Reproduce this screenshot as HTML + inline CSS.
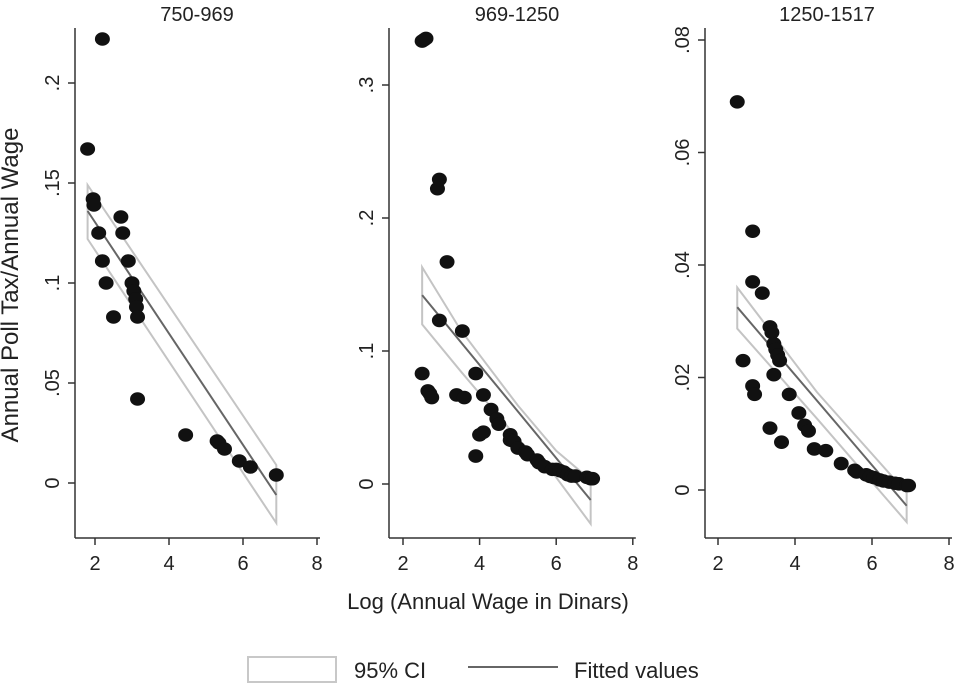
<!DOCTYPE html>
<html><head><meta charset="utf-8"><style>
body{margin:0;background:#fff;}
svg{display:block;font-family:"Liberation Sans",Arial,sans-serif;}
</style></head><body>
<svg id="chart" width="963" height="684" viewBox="0 0 963 684">
<text x="18" y="285" transform="rotate(-90 18 285)" text-anchor="middle" font-size="24" fill="#222">Annual Poll Tax/Annual Wage</text>
<text x="488" y="609" text-anchor="middle" font-size="22" fill="#222">Log (Annual Wage in Dinars)</text>
<g>
<rect x="248" y="657" width="88" height="25" fill="#fff" stroke="#c8c8c8" stroke-width="2"/>
<text x="354" y="678" font-size="22" fill="#222">95% CI</text>
<line x1="468" y1="667" x2="558" y2="667" stroke="#666" stroke-width="2"/>
<text x="574" y="678" font-size="22" fill="#222">Fitted values</text>
</g>
</svg>
<script>
const titles = ["750-969","969-1250","1250-1517"];
const xTicks = [2,4,6,8];
const yTicks1 = [0,0.05,0.1,0.15,0.2];
const yLabels1 = ["0",".05",".1",".15",".2"];
const yTicks2 = [0,0.1,0.2,0.3];
const yLabels2 = ["0",".1",".2",".3"];
const yTicks3 = [0,0.02,0.04,0.06,0.08];
const yLabels3 = ["0",".02",".04",".06",".08"];
const px1 = [1.8,2.2,1.95,1.97,2.1,2.2,2.3,2.5,2.7,2.75,2.9,3.0,3.05,3.1,3.12,3.15,3.15,4.45,5.3,5.35,5.5,5.9,6.2,6.9];
const py1 = [.167,.222,.142,.139,.125,.111,.100,.083,.133,.125,.111,.100,.096,.092,.088,.083,.042,.024,.021,.020,.017,.011,.008,.004];
const px2 = [2.5,2.55,2.6,2.9,2.95,3.15,2.95,3.55,2.5,2.65,2.7,2.75,3.4,3.6,3.9,4.1,4.3,4.45,4.5,3.9,4.0,4.1,4.8,4.8,4.9,5.0,5.2,5.25,5.5,5.55,5.7,5.9,6.0,6.1,6.2,6.3,6.4,6.5,6.8,6.9,6.95];
const py2 = [.333,.334,.335,.222,.229,.167,.123,.115,.083,.070,.068,.065,.067,.065,.083,.067,.056,.049,.045,.021,.037,.039,.037,.033,.032,.027,.024,.022,.018,.016,.013,.011,.011,.010,.009,.007,.006,.006,.005,.004,.004];
const px3 = [2.5,2.9,2.9,3.15,2.65,2.9,2.95,3.35,3.4,3.45,3.5,3.55,3.6,3.45,3.85,3.35,3.65,4.1,4.25,4.35,4.5,4.8,5.2,5.55,5.6,5.85,5.95,6.05,6.2,6.3,6.45,6.6,6.7,6.9,6.95];
const py3 = [.069,.046,.037,.035,.023,.0185,.017,.029,.028,.026,.025,.024,.023,.0205,.017,.011,.0085,.0137,.0115,.0105,.0073,.007,.0047,.0035,.0032,.0027,.0024,.0022,.0018,.0016,.0014,.0012,.0011,.0008,.0008];
const fitX1 = [1.8,6.9], fitY1 = [.136,-.006];
const ciX1 = [1.8,6.9], ciU1 = [.149,.009], ciL1 = [.122,-.020];
const fitX2 = [2.5,6.9], fitY2 = [.142,-.012];
const ciX2 = [2.5,3.5,5.0,6.0,6.9], ciU2 = [.163,.116,.059,.025,.003], ciL2 = [.120,.085,.034,.005,-.030];
const fitX3 = [2.5,6.9], fitY3 = [.0325,-.0028];
const ciX3 = [2.5,4.57,6.9], ciU3 = [.036,.0174,-.0005], ciL3 = [.0287,.0127,-.0057];

const NS="http://www.w3.org/2000/svg";
const svg=document.getElementById('chart');
function mk(tag,attrs,parent){const e=document.createElementNS(NS,tag);for(const k in attrs)e.setAttribute(k,attrs[k]);(parent||svg).appendChild(e);return e;}

const panels=[
 {axX:75,x2px:95,ppu:37,y0px:483,ppv:100/0.05,top:28,yT:yTicks1,yL:yLabels1,px:px1,py:py1,fx:fitX1,fy:fitY1,cx:ciX1,cu:ciU1,cl:ciL1,tx:197},
 {axX:389,x2px:403,ppu:38.3,y0px:484,ppv:133/0.1,top:28,yT:yTicks2,yL:yLabels2,px:px2,py:py2,fx:fitX2,fy:fitY2,cx:ciX2,cu:ciU2,cl:ciL2,tx:517},
 {axX:705,x2px:718,ppu:38.5,y0px:490,ppv:112.5/0.02,top:28,yT:yTicks3,yL:yLabels3,px:px3,py:py3,fx:fitX3,fy:fitY3,cx:ciX3,cu:ciU3,cl:ciL3,tx:827}
];
const axisY=538;
panels.forEach((p,i)=>{
 const g=mk('g',{});
 
 
 const xs=v=>p.x2px+(v-2)*p.ppu;
 const ys=v=>p.y0px-v*p.ppv;
 const t=mk('text',{x:p.tx,y:21,'text-anchor':'middle','font-size':20,fill:'#222'},g);
 t.textContent=titles[i];
 
 
 const ya=mk('line',{x1:p.axX,y1:p.top,x2:p.axX,y2:axisY,stroke:'#333','stroke-width':1.5},g);
 
 
 const xa=mk('line',{x1:p.axX,y1:axisY,x2:xs(8)+3,y2:axisY,stroke:'#333','stroke-width':1.5},g);
 
 
 xTicks.forEach(v=>{
  mk('line',{x1:xs(v),y1:axisY,x2:xs(v),y2:axisY+7,stroke:'#333','stroke-width':1.5},g);
  const tl=mk('text',{x:xs(v),y:axisY+32,'text-anchor':'middle','font-size':20,fill:'#222'},g);
  tl.textContent=v;
  
  
 });
 p.yT.forEach((v,j)=>{
  const y=ys(v);
  mk('line',{x1:p.axX-7,y1:y,x2:p.axX,y2:y,stroke:'#333','stroke-width':1.5},g);
  const lx=p.axX-16;
  const tl=mk('text',{x:lx,y:y,'text-anchor':'middle','font-size':20,fill:'#222',transform:`rotate(-90 ${lx} ${y})`},g);
  tl.textContent=p.yL[j];
  
  
 });
 let pts=p.cx.map((x,k)=>xs(x)+','+ys(p.cu[k]));
 for(let k=p.cx.length-1;k>=0;k--)pts.push(xs(p.cx[k])+','+ys(p.cl[k]));
 const ci=mk('polygon',{points:pts.join(' '),fill:'none',stroke:'#c4c4c4','stroke-width':2},g);
 
 
 const fit=mk('polyline',{points:p.fx.map((x,k)=>xs(x)+','+ys(p.fy[k])).join(' '),fill:'none',stroke:'#666','stroke-width':2},g);
 
 
 p.px.forEach((x,k)=>{
  const c=mk('ellipse',{cx:xs(x),cy:ys(p.py[k]),rx:7.5,ry:6.8,fill:'#111'},g);
  
  
 });
});
</script>
</body></html>
